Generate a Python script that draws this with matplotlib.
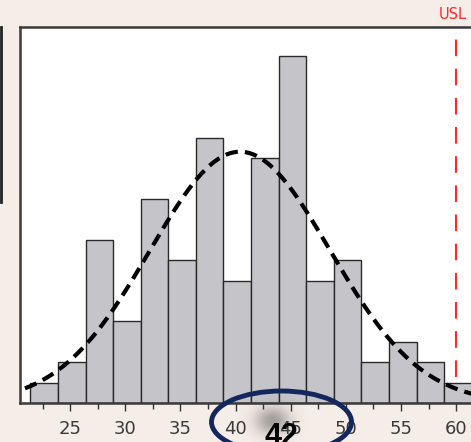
import numpy as np
import matplotlib.pyplot as plt
from matplotlib.patches import Ellipse
from matplotlib.lines import Line2D

# Histogram data
bin_start = 21.4
bin_width = 2.5
counts = [1, 2, 8, 4, 10, 7, 13, 6, 12, 17, 6, 7, 2, 3, 2, 1]
usl = 60
major_ticks = [25, 30, 35, 40, 45, 50, 55, 60]
minor_ticks = [22.5, 27.5, 32.5, 37.5, 42.5, 47.5, 52.5, 57.5]
callout_label = "42"

bg = '#f5ede8'
bar_color = '#c5c4c8'

edges = bin_start + bin_width * np.arange(len(counts) + 1)
centers = (edges[:-1] + edges[1:]) / 2
n = sum(counts)
mu = np.sum(centers * counts) / n
sigma = np.sqrt(np.sum(counts * (centers - mu) ** 2) / n)

fig = plt.figure(figsize=(4.71, 4.42), dpi=100, facecolor=bg)
ax = fig.add_axes([20 / 471, 39 / 442, 0.98, 376 / 442])
ax.set_facecolor('white')

ax.bar(edges[:-1], counts, width=bin_width, align='edge',
       color=bar_color, edgecolor='#2a2a2a', linewidth=1.0, zorder=2)

# fitted normal curve
xs = np.linspace(bin_start - 0.5, 64, 400)
pdf = np.exp(-0.5 * ((xs - mu) / sigma) ** 2) / (sigma * np.sqrt(2 * np.pi))
ax.plot(xs, pdf * n * bin_width, color='black', lw=3.0,
        linestyle=(0, (3, 1.7)), zorder=3)

# upper spec limit
ax.axvline(usl, ymin=0.07, color='#ff2a2a', lw=1.5,
           linestyle=(0, (8, 6)), zorder=3)
ax.text(usl - 0.35, 1.033, 'USL', color='#ff2a2a', fontsize=10.5,
        transform=ax.get_xaxis_transform(), ha='center', va='center',
        clip_on=False)

ax.set_xlim(20.45, 62.3)
ax.set_ylim(0, 18.43)
ax.set_xticks(major_ticks)
ax.set_xticks(minor_ticks, minor=True)
ax.set_yticks([])
ax.tick_params(axis='x', which='major', length=6, width=1, color='#333333',
               labelsize=13, labelcolor='#3a3a3a', pad=6)
ax.tick_params(axis='x', which='minor', length=4, width=1, color='#333333')
for s in ['left', 'top', 'bottom']:
    ax.spines[s].set_color('#3a3a3a')
    ax.spines[s].set_linewidth(1.8)
ax.spines['right'].set_visible(False)

# edge of the neighbouring panel
fig.add_artist(Line2D([0.8 / 471, 0.8 / 471], [1 - 27 / 442, 1 - 202 / 442],
                      color='#222222', lw=2, transform=fig.transFigure))

# soft smudge behind the callout number
ov = fig.add_axes([0, 0, 1, 1], zorder=5)
ov.axis('off')
gx, gy = np.meshgrid(np.arange(235, 325), np.arange(392, 442))
blob = np.exp(-(((gx - 272) / 17.0) ** 2 + ((gy - 420) / 14.0) ** 2))
rgba = np.zeros(gx.shape + (4,))
rgba[..., :3] = 0.25
rgba[..., 3] = 0.45 * blob
ov.imshow(rgba, extent=(235, 325, 442, 392), interpolation='bilinear')
ov.set_xlim(0, 471)
ov.set_ylim(442, 0)

ov.add_patch(Ellipse((281.5, 422), 140, 62, fill=False,
                     edgecolor='#14265e', lw=3.5))
ov.text(281, 445, callout_label, fontsize=22, fontweight='bold',
        family=['Liberation Sans', 'DejaVu Sans'], color='black',
        ha='center', va='baseline', clip_on=False)

fig.savefig('out.png', dpi=100, facecolor=bg)
